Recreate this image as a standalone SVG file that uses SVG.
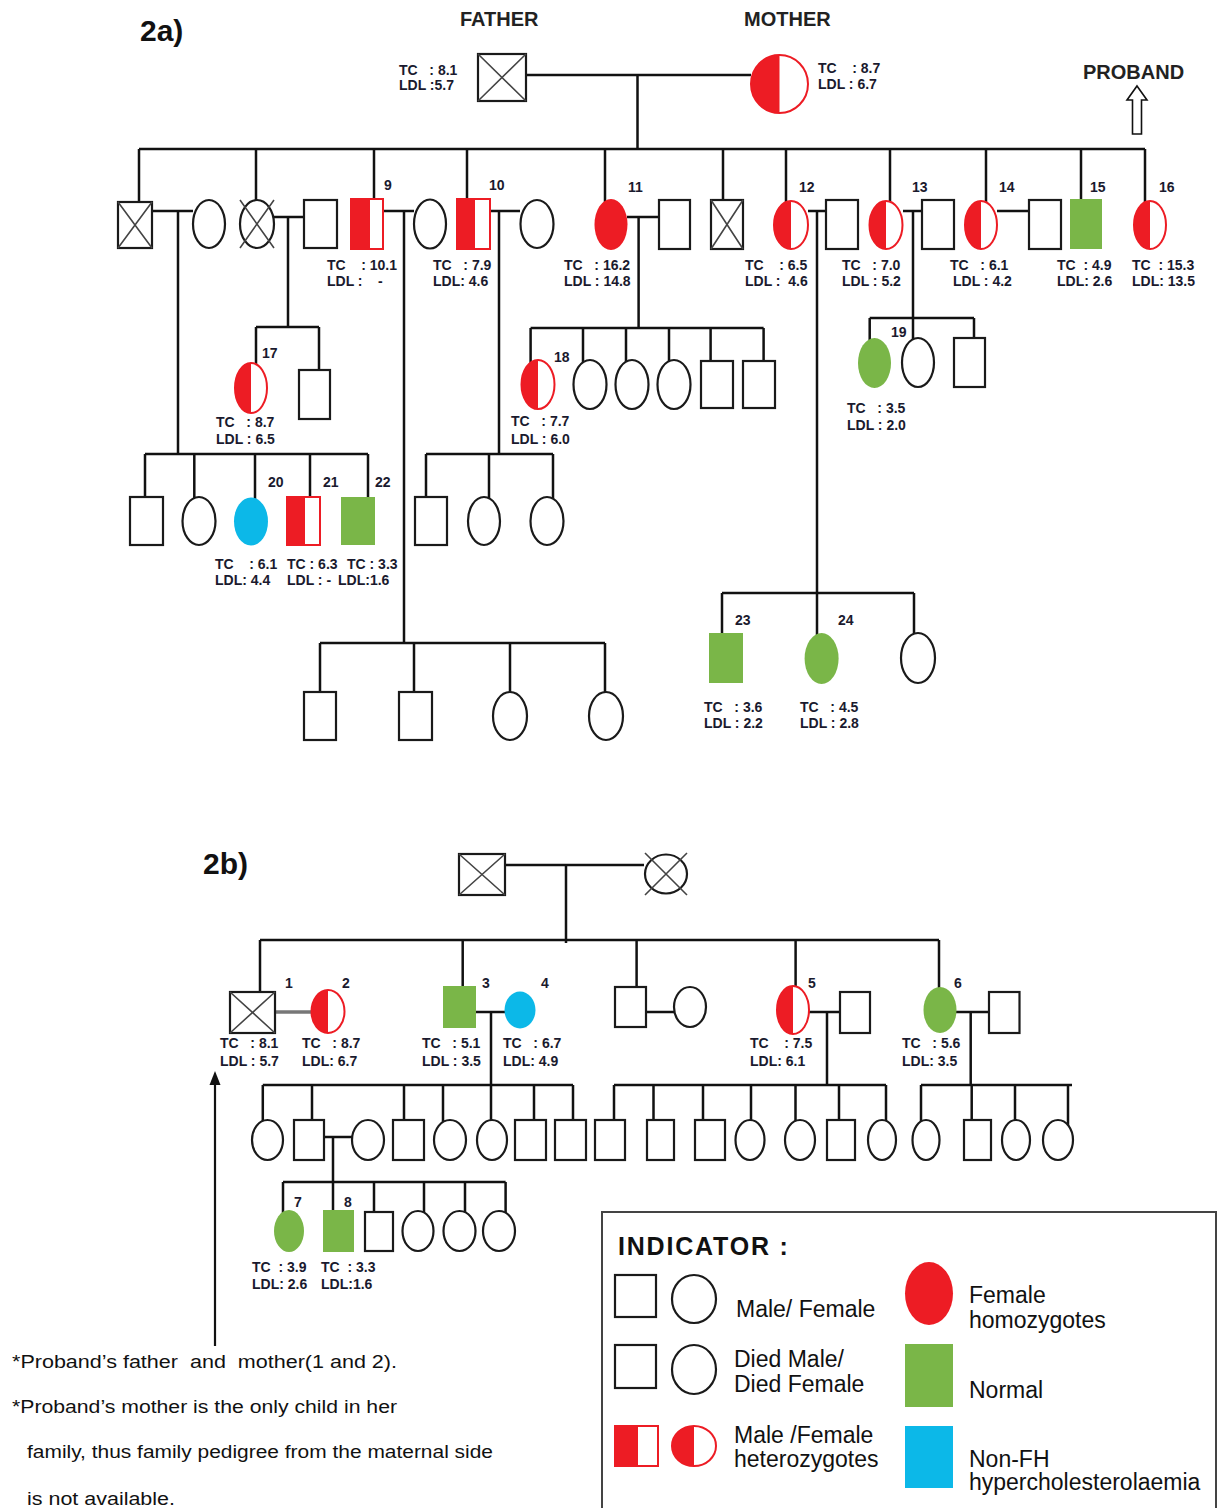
<svg xmlns="http://www.w3.org/2000/svg" width="1219" height="1508" viewBox="0 0 1219 1508" xml:space="preserve">
<style>
.ln{stroke:#111;stroke-width:2.5;fill:none}
.sh{fill:#fff;stroke:#1a1a1a;stroke-width:2.2}
.dx{stroke:#444;stroke-width:1.6}
.red{fill:#ED1C24}
.rs{fill:#fff;stroke:#ED1C24;stroke-width:2}
.grn{fill:#7ab648}
.blu{fill:#0cb8e8}
text{font-family:"Liberation Sans",Arial,sans-serif;fill:#111;white-space:pre}
.v{font-weight:bold;font-size:14px;fill:#1a1a2e}
.n{font-weight:bold;font-size:14px;fill:#1a1a2e}
.h{font-weight:bold;font-size:20px;fill:#222}
.t{font-weight:bold;font-size:30px}
.ind{font-weight:bold;font-size:25px;letter-spacing:1.8px}
.lg{font-size:23px}
.nt{font-size:17.5px}
</style>
<rect width="1219" height="1508" fill="#fff"/>

<text class="t" x="140" y="41">2a)</text>
<text class="h" x="460" y="26">FATHER</text>
<text class="h" x="744" y="26">MOTHER</text>
<text class="h" x="1083" y="79">PROBAND</text>
<polygon points="1137,86 1147,100 1141.5,100 1141.5,134 1132.5,134 1132.5,100 1127,100" fill="#fff" stroke="#111" stroke-width="1.6"/>

<g id="connectors">
<path class="ln" d="M526,75H751 M637.5,75V149 M139,149H1145"/>
<path class="ln" d="M139,149V215 M256,149V215 M374,149V205 M467,149V205 M605,149V210 M723,149V210 M786,149V215 M890,149V215 M986,149V215 M1081,149V205 M1145,149V215"/>
<path class="ln" d="M152,211H193 M178,211V454 M274,217H304 M288,217V327 M383,211H414 M404,211V643 M490,211H520 M499,211V454 M627,217H659 M638.6,217V328 M808,211H826 M817,211V660 M903,211H922 M913,211V362 M997,211H1029"/>
<path class="ln" d="M256,327H319 M256,327V380 M319,327V375"/>
<path class="ln" d="M530.6,328H763.6 M530.6,328V384 M583,328V384 M626,328V384 M669,328V384 M710.6,328V380 M763.6,328V380"/>
<path class="ln" d="M869.7,318H974 M869.7,318V360 M974,318V350"/>
<path class="ln" d="M145,454H368 M145,454V510 M194.3,454V520 M255,454V520 M310,454V510 M368,454V510"/>
<path class="ln" d="M426,454H553 M426,454V510 M489,454V520 M553,454V520"/>
<path class="ln" d="M320,643H605 M320,643V700 M414,643V700 M510,643V716 M605,643V716"/>
<path class="ln" d="M722,593H914 M722,593V645 M914,593V655"/>
<path class="ln" d="M505,865H644 M566,865V943 M260,940H939 M260,940V1000 M462.7,940V1000 M636.6,940V1000 M795.6,940V1005 M939,940V1005"/>
<path d="M275,1012H312" stroke="#777" stroke-width="3.5"/>
<path class="ln" d="M476,1012H505 M491,1012V1085 M646,1012H674 M809,1012H840 M827,1012V1085 M956,1012H989 M970.7,1012V1085"/>
<path class="ln" d="M262.8,1085H573 M262.8,1085V1135 M312,1085V1130 M404,1085V1130 M443,1085V1135 M491,1085V1135 M534,1085V1130 M573,1085V1130"/>
<path class="ln" d="M614,1085H886 M614,1085V1130 M653.5,1085V1130 M703,1085V1130 M751,1085V1135 M795.5,1085V1135 M839,1085V1130 M886,1085V1140"/>
<path class="ln" d="M921,1085H1072 M921,1085V1135 M971.7,1085V1130 M1015,1085V1135 M1068,1085V1140"/>
<path class="ln" d="M324,1137H352 M333,1137V1215 M283,1182H505.6 M283,1182V1225 M374,1182V1220 M424,1182V1225 M465,1182V1225 M505.6,1182V1225"/>
<path d="M215,1346V1082" stroke="#111" stroke-width="2.2"/>
<polygon points="215,1071 209.5,1085 220.5,1085" fill="#111"/>
</g>

<g id="father"><rect class="sh" x="478" y="54" width="48" height="47"/><path class="dx" d="M478,54L526,101M526,54L478,101"/><text class="v" x="399" y="75">TC   : 8.1</text><text class="v" x="399" y="90">LDL :5.7</text></g>
<g id="mother"><ellipse class="rs" cx="779.5" cy="84" rx="28.5" ry="29"/><path class="red" d="M779.5,55A28.5,29 0 0 0 779.5,113Z"/><text class="v" x="818" y="73">TC    : 8.7</text><text class="v" x="818" y="89">LDL : 6.7</text></g>

<g id="c1"><rect class="sh" x="118" y="202" width="34" height="46"/><path class="dx" d="M118,202L152,248M152,202L118,248"/></g>
<g id="c1w"><ellipse class="sh" cx="209" cy="224" rx="16" ry="24"/></g>
<g id="c2"><ellipse class="sh" cx="257" cy="224" rx="17" ry="24"/><path class="dx" d="M240,200L274,248M274,200L240,248"/></g>
<g id="c2h"><rect class="sh" x="304" y="200" width="33" height="48"/></g>
<g id="n9"><rect class="rs" x="351" y="199" width="32" height="50"/><rect class="red" x="351" y="199" width="19" height="50"/><text class="n" x="384" y="190">9</text><text class="v" x="327" y="270">TC    : 10.1</text><text class="v" x="327" y="286">LDL :    -</text></g>
<g id="n9w"><ellipse class="sh" cx="430" cy="224" rx="16" ry="24.5"/></g>
<g id="n10"><rect class="rs" x="457" y="199" width="33" height="50"/><rect class="red" x="457" y="199" width="18" height="50"/><text class="n" x="489" y="190">10</text><text class="v" x="433" y="270">TC   : 7.9</text><text class="v" x="433" y="286">LDL: 4.6</text></g>
<g id="n10w"><ellipse class="sh" cx="537" cy="224" rx="16.5" ry="24"/></g>
<g id="n11"><ellipse class="red" cx="611" cy="224.5" rx="16.5" ry="25.5"/><text class="n" x="628" y="192">11</text><text class="v" x="564" y="270">TC   : 16.2</text><text class="v" x="564" y="286">LDL : 14.8</text></g>
<g id="n11h"><rect class="sh" x="659" y="200" width="31" height="49"/></g>
<g id="c5"><rect class="sh" x="711" y="200" width="32" height="49"/><path class="dx" d="M711,200L743,249M743,200L711,249"/></g>
<g id="n12"><ellipse class="rs" cx="791" cy="225" rx="17" ry="24"/><path class="red" d="M791,201A17,24 0 0 0 791,249Z"/><text class="n" x="799" y="192">12</text><text class="v" x="745" y="270">TC    : 6.5</text><text class="v" x="745" y="286">LDL :  4.6</text></g>
<g id="n12h"><rect class="sh" x="826" y="200" width="32" height="49"/></g>
<g id="n13"><ellipse class="rs" cx="886" cy="225" rx="16.5" ry="24"/><path class="red" d="M886,201A16.5,24 0 0 0 886,249Z"/><text class="n" x="912" y="192">13</text><text class="v" x="842" y="270">TC   : 7.0</text><text class="v" x="842" y="286">LDL : 5.2</text></g>
<g id="n13h"><rect class="sh" x="922" y="200" width="32" height="49"/></g>
<g id="n14"><ellipse class="rs" cx="981" cy="225" rx="16" ry="24"/><path class="red" d="M981,201A16,24 0 0 0 981,249Z"/><text class="n" x="999" y="192">14</text><text class="v" x="950" y="270">TC   : 6.1</text><text class="v" x="953" y="286">LDL : 4.2</text></g>
<g id="n14h"><rect class="sh" x="1029" y="200" width="32" height="49"/></g>
<g id="n15"><rect class="grn" x="1070" y="199" width="32" height="50"/><text class="n" x="1090" y="192">15</text><text class="v" x="1057" y="270">TC  : 4.9</text><text class="v" x="1057" y="286">LDL: 2.6</text></g>
<g id="n16"><ellipse class="rs" cx="1150" cy="225" rx="16" ry="24"/><path class="red" d="M1150,201A16,24 0 0 0 1150,249Z"/><text class="n" x="1159" y="192">16</text><text class="v" x="1132" y="270">TC  : 15.3</text><text class="v" x="1132" y="286">LDL: 13.5</text></g>

<g id="n17"><ellipse class="rs" cx="251" cy="388" rx="16" ry="25"/><path class="red" d="M251,363A16,25 0 0 0 251,413Z"/><text class="n" x="262" y="358">17</text><text class="v" x="216" y="427">TC   : 8.7</text><text class="v" x="216" y="444">LDL : 6.5</text></g>
<g id="n17b"><rect class="sh" x="299" y="370" width="31" height="49"/></g>

<g id="n18"><ellipse class="rs" cx="538" cy="384.5" rx="16.5" ry="24.5"/><path class="red" d="M538,360A16.5,24.5 0 0 0 538,409Z"/><text class="n" x="554" y="362">18</text><text class="v" x="511" y="426">TC   : 7.7</text><text class="v" x="511" y="444">LDL : 6.0</text></g>
<g id="n18b"><ellipse class="sh" cx="590" cy="384.5" rx="16.5" ry="24.5"/></g>
<g id="n18c"><ellipse class="sh" cx="632" cy="384.5" rx="16.5" ry="24.5"/></g>
<g id="n18d"><ellipse class="sh" cx="674" cy="384.5" rx="16.5" ry="24.5"/></g>
<g id="n18e"><rect class="sh" x="701" y="361" width="32" height="47"/></g>
<g id="n18f"><rect class="sh" x="743" y="361" width="32" height="47"/></g>

<g id="n19"><ellipse class="grn" cx="874.5" cy="363" rx="16.5" ry="25"/><text class="n" x="891" y="337">19</text><text class="v" x="847" y="413">TC   : 3.5</text><text class="v" x="847" y="430">LDL : 2.0</text></g>
<g id="n19b"><ellipse class="sh" cx="918" cy="362.5" rx="16" ry="24.5"/></g>
<g id="n19c"><rect class="sh" x="954" y="338" width="31" height="49"/></g>

<g id="g3a"><rect class="sh" x="130" y="497" width="33" height="48"/></g>
<g id="g3b"><ellipse class="sh" cx="199" cy="521" rx="16.5" ry="24"/></g>
<g id="n20"><ellipse class="blu" cx="251" cy="521.5" rx="17" ry="24"/><text class="n" x="268" y="487">20</text><text class="v" x="215" y="569">TC    : 6.1</text><text class="v" x="215" y="585">LDL: 4.4</text></g>
<g id="n21"><rect class="rs" x="287" y="497" width="33" height="48"/><rect class="red" x="287" y="497" width="18" height="48"/><text class="n" x="323" y="487">21</text><text class="v" x="287" y="569">TC : 6.3</text><text class="v" x="287" y="585">LDL : -</text></g>
<g id="n22"><rect class="grn" x="341" y="497" width="34" height="48"/><text class="n" x="375" y="487">22</text><text class="v" x="347" y="569">TC : 3.3</text><text class="v" x="338" y="585">LDL:1.6</text></g>

<g id="g10a"><rect class="sh" x="415" y="497" width="32" height="48"/></g>
<g id="g10b"><ellipse class="sh" cx="484" cy="521" rx="16" ry="24"/></g>
<g id="g10c"><ellipse class="sh" cx="547" cy="521" rx="16.5" ry="24"/></g>

<g id="g9a"><rect class="sh" x="304" y="692" width="32" height="48"/></g>
<g id="g9b"><rect class="sh" x="399" y="692" width="33" height="48"/></g>
<g id="g9c"><ellipse class="sh" cx="510" cy="716" rx="17" ry="24"/></g>
<g id="g9d"><ellipse class="sh" cx="606" cy="716" rx="17" ry="24"/></g>

<g id="n23"><rect class="grn" x="709" y="633" width="34" height="50"/><text class="n" x="735" y="625">23</text><text class="v" x="704" y="712">TC   : 3.6</text><text class="v" x="704" y="728">LDL : 2.2</text></g>
<g id="n24"><ellipse class="grn" cx="821.6" cy="658.5" rx="17" ry="25.5"/><text class="n" x="838" y="625">24</text><text class="v" x="800" y="712">TC   : 4.5</text><text class="v" x="800" y="728">LDL : 2.8</text></g>
<g id="g12c"><ellipse class="sh" cx="918" cy="658" rx="17" ry="25"/></g>

<text class="t" x="203" y="874">2b)</text>
<g id="b_gf"><rect class="sh" x="459" y="854" width="46" height="41"/><path class="dx" d="M459,854L505,895M505,854L459,895"/></g>
<g id="b_gm"><ellipse class="sh" cx="666" cy="874" rx="21" ry="19.5"/><path class="dx" d="M645,853L687,895M687,853L645,895"/></g>
<g id="b1"><rect class="sh" x="230" y="992" width="45" height="41"/><path class="dx" d="M230,992L275,1033M275,992L230,1033"/><text class="n" x="285" y="988">1</text><text class="v" x="220" y="1048">TC   : 8.1</text><text class="v" x="220" y="1066">LDL : 5.7</text></g>
<g id="b2"><ellipse class="rs" cx="328" cy="1011.5" rx="16.5" ry="21.5"/><path class="red" d="M328,990A16.5,21.5 0 0 0 328,1033Z"/><text class="n" x="342" y="988">2</text><text class="v" x="302" y="1048">TC   : 8.7</text><text class="v" x="302" y="1066">LDL: 6.7</text></g>
<g id="b3"><rect class="grn" x="443" y="986" width="33" height="42"/><text class="n" x="482" y="988">3</text><text class="v" x="422" y="1048">TC   : 5.1</text><text class="v" x="422" y="1066">LDL : 3.5</text></g>
<g id="b4"><ellipse class="blu" cx="520" cy="1010" rx="15.5" ry="18.5"/><text class="n" x="541" y="988">4</text><text class="v" x="503" y="1048">TC   : 6.7</text><text class="v" x="503" y="1066">LDL: 4.9</text></g>
<g id="b_s3"><rect class="sh" x="615" y="987" width="31" height="40"/></g>
<g id="b_s3w"><ellipse class="sh" cx="690" cy="1007" rx="16" ry="20"/></g>
<g id="b5"><ellipse class="rs" cx="793" cy="1010" rx="16" ry="24"/><path class="red" d="M793,986A16,24 0 0 0 793,1034Z"/><text class="n" x="808" y="988">5</text><text class="v" x="750" y="1048">TC    : 7.5</text><text class="v" x="750" y="1066">LDL: 6.1</text></g>
<g id="b5h"><rect class="sh" x="840" y="992" width="30" height="41"/></g>
<g id="b6"><ellipse class="grn" cx="940" cy="1010" rx="16.5" ry="23"/><text class="n" x="954" y="988">6</text><text class="v" x="902" y="1048">TC   : 5.6</text><text class="v" x="902" y="1066">LDL: 3.5</text></g>
<g id="b6h"><rect class="sh" x="989" y="992" width="30.5" height="41"/></g>

<g id="ba1"><ellipse class="sh" cx="267.5" cy="1140" rx="15.5" ry="20"/></g>
<g id="ba2"><rect class="sh" x="294" y="1120" width="30" height="40"/></g>
<g id="ba2w"><ellipse class="sh" cx="368" cy="1140" rx="16" ry="20"/></g>
<g id="ba3"><rect class="sh" x="393" y="1120" width="31" height="40"/></g>
<g id="ba4"><ellipse class="sh" cx="450" cy="1140" rx="16" ry="20"/></g>
<g id="ba5"><ellipse class="sh" cx="492" cy="1140" rx="15" ry="20"/></g>
<g id="ba6"><rect class="sh" x="515" y="1120" width="31" height="40"/></g>
<g id="ba7"><rect class="sh" x="555" y="1120" width="31" height="40"/></g>
<g id="bb1"><rect class="sh" x="595" y="1120" width="30" height="40"/></g>
<g id="bb2"><rect class="sh" x="647" y="1120" width="27" height="40"/></g>
<g id="bb3"><rect class="sh" x="695" y="1120" width="30" height="40"/></g>
<g id="bb4"><ellipse class="sh" cx="750" cy="1140" rx="14.5" ry="20"/></g>
<g id="bb5"><ellipse class="sh" cx="800" cy="1140" rx="15" ry="20"/></g>
<g id="bb6"><rect class="sh" x="827" y="1120" width="28" height="40"/></g>
<g id="bb7"><ellipse class="sh" cx="882" cy="1140" rx="14" ry="20"/></g>
<g id="bc1"><ellipse class="sh" cx="926" cy="1140" rx="13.5" ry="20"/></g>
<g id="bc2"><rect class="sh" x="964" y="1120" width="27" height="40"/></g>
<g id="bc3"><ellipse class="sh" cx="1016" cy="1140" rx="14" ry="20"/></g>
<g id="bc4"><ellipse class="sh" cx="1058" cy="1140" rx="15" ry="20"/></g>

<g id="b7"><ellipse class="grn" cx="289" cy="1231" rx="15" ry="21"/><text class="n" x="294" y="1207">7</text><text class="v" x="252" y="1272">TC  : 3.9</text><text class="v" x="252" y="1289">LDL: 2.6</text></g>
<g id="b8"><rect class="grn" x="323" y="1210" width="31" height="42"/><text class="n" x="344" y="1207">8</text><text class="v" x="321" y="1272">TC  : 3.3</text><text class="v" x="321" y="1289">LDL:1.6</text></g>
<g id="bg3"><rect class="sh" x="365" y="1212" width="28" height="39"/></g>
<g id="bg4"><ellipse class="sh" cx="418" cy="1231" rx="15.5" ry="20"/></g>
<g id="bg5"><ellipse class="sh" cx="459.5" cy="1231" rx="16" ry="20"/></g>
<g id="bg6"><ellipse class="sh" cx="499" cy="1231" rx="16" ry="20"/></g>

<g id="notes">
<text class="nt" x="12" y="1368" textLength="385" lengthAdjust="spacingAndGlyphs">*Proband’s father  and  mother(1 and 2).</text>
<text class="nt" x="12" y="1413" textLength="385" lengthAdjust="spacingAndGlyphs">*Proband’s mother is the only child in her</text>
<text class="nt" x="27" y="1458" textLength="466" lengthAdjust="spacingAndGlyphs">family, thus family pedigree from the maternal side</text>
<text class="nt" x="27" y="1505" textLength="148" lengthAdjust="spacingAndGlyphs">is not available.</text>
</g>

<g id="legend">
<rect x="602" y="1212" width="614" height="310" fill="none" stroke="#444" stroke-width="2"/>
<text class="ind" x="618" y="1255">INDICATOR :</text>
<rect class="sh" x="615" y="1275" width="41" height="42"/>
<ellipse class="sh" cx="694" cy="1299" rx="22" ry="24"/>
<text class="lg" x="736" y="1317">Male/ Female</text>
<rect class="sh" x="615" y="1345" width="41" height="43"/>
<ellipse class="sh" cx="694" cy="1369.5" rx="22" ry="24.5"/>
<text class="lg" x="734" y="1367">Died Male/</text>
<text class="lg" x="734" y="1392">Died Female</text>
<rect class="rs" x="615" y="1426" width="43" height="40"/>
<rect class="red" x="614" y="1425" width="24" height="42"/>
<ellipse class="rs" cx="694" cy="1446" rx="22" ry="20"/>
<path class="red" d="M694,1426A22,20 0 0 0 694,1466Z"/>
<text class="lg" x="734" y="1443">Male /Female</text>
<text class="lg" x="734" y="1467">heterozygotes</text>
<ellipse class="red" cx="929" cy="1293.5" rx="24" ry="31.5"/>
<text class="lg" x="969" y="1303">Female</text>
<text class="lg" x="969" y="1328">homozygotes</text>
<rect class="grn" x="905" y="1344" width="48" height="63"/>
<text class="lg" x="969" y="1398">Normal</text>
<rect class="blu" x="905" y="1426" width="48" height="62"/>
<text class="lg" x="969" y="1467">Non-FH</text>
<text class="lg" x="969" y="1490">hypercholesterolaemia</text>
</g>
</svg>
